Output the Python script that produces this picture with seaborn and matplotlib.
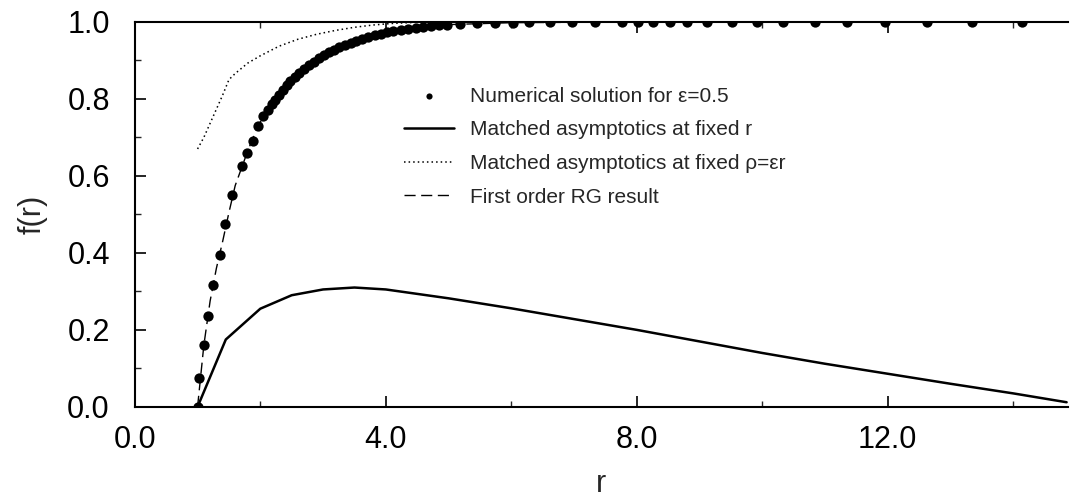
import matplotlib
matplotlib.use("Agg")
import matplotlib.pyplot as plt
import seaborn as sns
import pandas as pd
from matplotlib.ticker import MultipleLocator, FormatStrFormatter

# Numerical solution for eps=0.5 (dots)
num_r = [1.00, 1.03, 1.10, 1.16, 1.24, 1.36, 1.44, 1.55, 1.71, 1.78, 1.88, 1.96,
         2.05, 2.12, 2.18, 2.24, 2.30, 2.36, 2.42, 2.48, 2.55, 2.62, 2.70, 2.78,
         2.86, 2.94, 3.02, 3.10, 3.18, 3.26, 3.35, 3.44, 3.53, 3.62, 3.72, 3.82,
         3.92, 4.02, 4.12, 4.24, 4.36, 4.48, 4.60, 4.72, 4.85, 4.97, 5.18, 5.45,
         5.74, 6.02, 6.29, 6.61, 6.96, 7.33, 7.76, 8.02, 8.26, 8.53, 8.80, 9.12,
         9.51, 9.91, 10.33, 10.84, 11.35, 11.95, 12.62, 13.34, 14.14]
num_f = [0.000, 0.075, 0.160, 0.236, 0.317, 0.395, 0.475, 0.550, 0.625, 0.660, 0.690, 0.730,
         0.755, 0.772, 0.786, 0.798, 0.810, 0.822, 0.835, 0.846, 0.857, 0.867, 0.878, 0.888,
         0.897, 0.906, 0.914, 0.921, 0.928, 0.934, 0.940, 0.946, 0.951, 0.956, 0.961, 0.965,
         0.969, 0.973, 0.976, 0.979, 0.982, 0.985, 0.987, 0.989, 0.991, 0.992, 0.994, 0.996,
         0.997, 0.998, 0.999, 0.999, 1.000, 1.000, 1.000, 1.000, 1.000, 1.000, 1.000, 1.000,
         1.000, 1.000, 1.000, 1.000, 1.000, 1.000, 1.000, 1.000, 1.000]

# Matched asymptotics at fixed r (solid)
fixr_r = [1.00, 1.45, 2.00, 2.50, 3.00, 3.50, 4.00, 5.00, 6.00, 7.00, 8.00, 9.00,
          10.00, 11.00, 12.00, 13.00, 14.00, 14.85]
fixr_f = [0.000, 0.175, 0.255, 0.290, 0.305, 0.310, 0.305, 0.282, 0.256, 0.228, 0.200, 0.170,
          0.140, 0.112, 0.086, 0.060, 0.035, 0.012]

# Matched asymptotics at fixed rho = eps r (dotted)
fixrho_r = [1.00, 1.10, 1.25, 1.40, 1.50, 1.60, 1.80, 2.00, 2.30, 2.60, 2.90, 3.20,
            3.50, 3.80, 4.10, 4.50, 5.00, 8.00, 12.00, 14.85]
fixrho_f = [0.670, 0.700, 0.755, 0.810, 0.850, 0.866, 0.893, 0.912, 0.937, 0.955, 0.968, 0.978,
            0.986, 0.992, 0.996, 0.999, 1.000, 1.000, 1.000, 1.000]

# First order RG result (dashed)
rg_r = [1.00, 1.10, 1.20, 1.30, 1.40, 1.50, 1.60, 1.70, 1.80, 1.90, 2.00, 2.20, 2.40,
        2.60, 2.80, 3.00, 3.30, 3.60, 4.00, 4.50, 5.00, 6.00, 8.00, 12.00, 14.85]
rg_f = [0.000, 0.160, 0.275, 0.360, 0.430, 0.505, 0.575, 0.620, 0.665, 0.705, 0.740, 0.790, 0.830,
        0.862, 0.888, 0.910, 0.936, 0.955, 0.972, 0.986, 0.993, 0.998, 1.000, 1.000, 1.000]

labels = ["Numerical solution for \u03b5=0.5",
          "Matched asymptotics at fixed r",
          "Matched asymptotics at fixed \u03c1=\u03b5r",
          "First order RG result"]

sns.set_style("ticks")
plt.rcParams['font.family'] = ['Liberation Sans', 'DejaVu Sans']

fig = plt.figure(figsize=(10.7, 4.98), dpi=100)
ax = fig.add_axes([0.126, 0.183, 0.872, 0.773])

df_fixr = pd.DataFrame({"r": fixr_r, "f": fixr_f})
df_rho = pd.DataFrame({"r": fixrho_r, "f": fixrho_f})
df_rg = pd.DataFrame({"r": rg_r, "f": rg_f})
df_num = pd.DataFrame({"r": num_r, "f": num_f})

sns.lineplot(data=df_fixr, x="r", y="f", ax=ax, color="black", lw=1.8,
             sort=False, estimator=None, label=labels[1])
sns.lineplot(data=df_rho, x="r", y="f", ax=ax, color="black", lw=1.1,
             linestyle=(0, (1, 2)), sort=False, estimator=None, label=labels[2])
sns.lineplot(data=df_rg, x="r", y="f", ax=ax, color="black", lw=1.0,
             linestyle=(0, (8, 4)), sort=False, estimator=None, label=labels[3])
sns.scatterplot(data=df_num, x="r", y="f", ax=ax, color="black", s=55,
                edgecolor="black", linewidth=0, zorder=5, label=labels[0])

ax.set_xlim(0, 14.87)
ax.set_ylim(0, 1.0)
ax.xaxis.set_major_locator(MultipleLocator(4))
ax.xaxis.set_minor_locator(MultipleLocator(2))
ax.yaxis.set_major_locator(MultipleLocator(0.2))
ax.yaxis.set_minor_locator(MultipleLocator(0.1))
ax.xaxis.set_major_formatter(FormatStrFormatter("%.1f"))
ax.yaxis.set_major_formatter(FormatStrFormatter("%.1f"))
ax.tick_params(which="major", direction="in", length=8, width=1.2, top=True,
               labelsize=22, colors="black")
ax.tick_params(axis="y", which="major", pad=18)
ax.tick_params(axis="x", which="major", pad=13)
ax.tick_params(which="minor", direction="in", length=4, width=1.0, top=True)
for s in ["left", "bottom", "top"]:
    ax.spines[s].set_visible(True)
    ax.spines[s].set_linewidth(1.5)
    ax.spines[s].set_color("black")
ax.spines["right"].set_visible(False)

ax.set_xlabel("r", fontsize=22, labelpad=10)
ax.set_ylabel("f(r)", fontsize=22, labelpad=14)

handles, labs = ax.get_legend_handles_labels()
order = [labs.index(l) for l in labels]
leg = ax.legend([handles[i] for i in order], [labs[i] for i in order],
                loc="upper left", bbox_to_anchor=(0.268, 0.88), frameon=False,
                fontsize=15, handlelength=2.4, handletextpad=0.8, labelspacing=0.7,
                markerscale=0.6)

fig.savefig("out.png", dpi=100)
